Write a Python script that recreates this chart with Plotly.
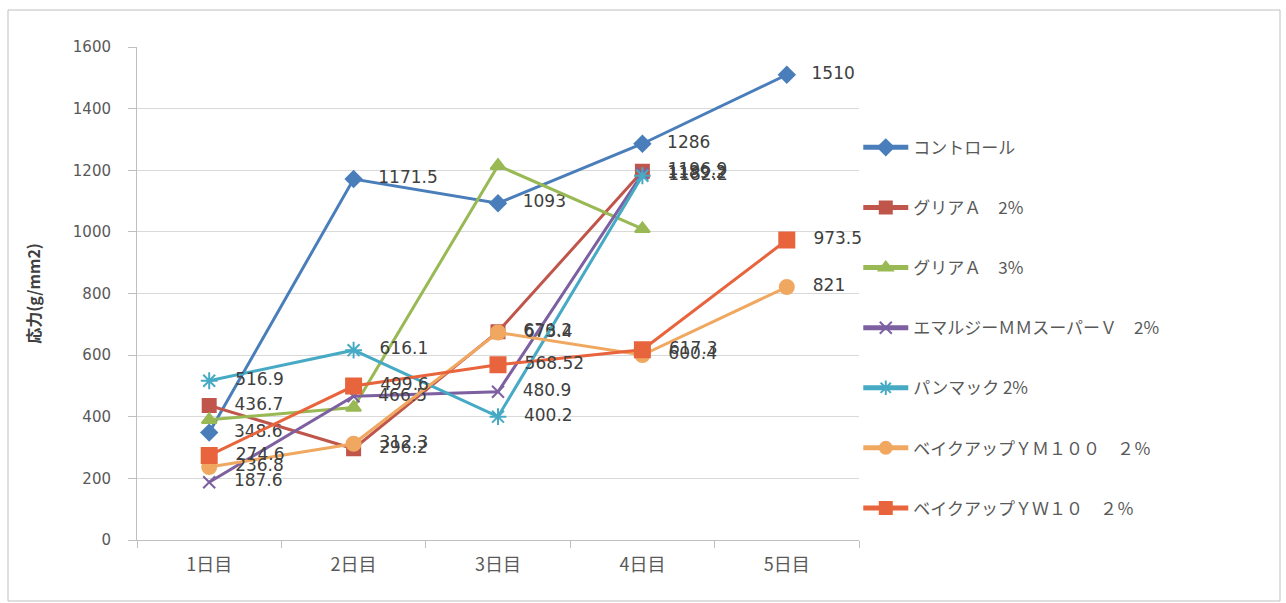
import plotly.graph_objects as go

days = ["1日目", "2日目", "3日目", "4日目", "5日目"]

control = [348.6, 1171.5, 1093, 1286, 1510]
glia_a2 = [436.7, 296.2, 676.2, 1196.9, None]
glia_a3 = [390, 430, 1215, 1010, None]
emulsy = [187.6, 466.5, 480.9, 1189.2, None]
panmac = [516.9, 616.1, 400.2, 1182.2, None]
bake_ym100 = [236.8, 312.3, 673.4, 600.4, 821]
bake_yw10 = [274.6, 499.6, 568.52, 617.3, 973.5]

names = ["コントロール", "グリアＡ　2%", "グリアＡ　3%", "エマルジーＭＭスーパーＶ　2%",
         "パンマック 2%", "ベイクアップＹＭ１００　２％", "ベイクアップＹＷ１０　２％"]
series = [control, glia_a2, glia_a3, emulsy, panmac, bake_ym100, bake_yw10]
show_labels = [True, True, False, True, True, True, True]

colors = ["#4a7ebb", "#c0564b", "#98b954", "#7d60a0", "#46aac5", "#f0a860", "#e8643c"]
symbols = ["diamond", "square", "triangle-up", "x-thin-open", "asterisk-open", "circle", "square"]
sizes = [12, 13, 13, 12, 14, 14, 15]

def fmt(v):
    if v is None:
        return ""
    return "\u00a0\u00a0\u00a0" + f"{v:g}"

fig = go.Figure()
for i, (nm, ys) in enumerate(zip(names, series)):
    fig.add_trace(go.Scatter(
        x=days, y=ys, name=nm, mode="lines+markers+text" if show_labels[i] else "lines+markers",
        line=dict(color=colors[i], width=3),
        marker=dict(symbol=symbols[i], size=sizes[i], color=colors[i],
                    line=dict(color=colors[i], width=2)),
        text=[fmt(v) for v in ys] if show_labels[i] else None,
        textposition="middle right",
        textfont=dict(family="DejaVu Sans", size=17, color="#404040"),
        legendgroup=f"g{i}",
        cliponaxis=False,
    ))

fig.update_layout(
    width=1286, height=603,
    margin=dict(l=137, r=427, t=47, b=63),
    paper_bgcolor="white", plot_bgcolor="white",
    showlegend=True,
    legend=dict(x=0.999, xanchor="left", y=0.832, yanchor="top",
                font=dict(family="Noto Sans CJK JP", size=17, color="#595959"),
                tracegroupgap=35, itemwidth=45, itemsizing="constant",
                bgcolor="rgba(0,0,0,0)"),
    xaxis=dict(type="category", range=[-0.5, 4.5], showgrid=False,
               showline=True, linecolor="#bfbfbf", linewidth=1,
               ticks="outside", tickson="boundaries", ticklen=7, tickcolor="#bfbfbf",
               ticklabelstandoff=8,
               tickfont=dict(family="Noto Sans CJK JP", size=18, color="#595959")),
    yaxis=dict(range=[0, 1600], dtick=200, showgrid=True, gridcolor="#d9d9d9",
               showline=True, linecolor="#bfbfbf", linewidth=1,
               ticks="outside", ticklen=8, tickcolor="#bfbfbf", zeroline=False,
               ticklabelstandoff=14,
               tickfont=dict(family="DejaVu Sans", size=15, color="#595959"),
               title=dict(text="<b>応力(g/mm2)</b>", standoff=28,
                          font=dict(family="Noto Sans CJK JP", size=16, color="#404040"))),
)

fig.add_shape(type="rect", xref="paper", yref="paper",
              x0=(8 - 137) / 722, x1=(1280 - 137) / 722,
              y0=(540 - 601) / 493, y1=(540 - 10) / 493,
              line=dict(color="#bfbfbf", width=1), layer="below")

fig.write_html("out.html")
